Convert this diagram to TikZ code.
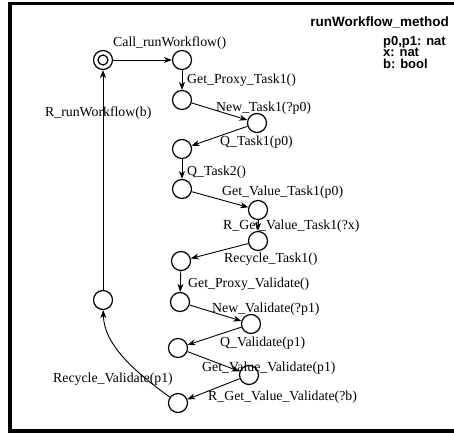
\documentclass[tikz,border=0pt]{standalone}
\usepackage{fontspec}
\setmainfont{Liberation Serif}
\setsansfont{Liberation Sans}
\usetikzlibrary{arrows.meta}
\usetikzlibrary{positioning}
\tikzset{state/.style = {draw, circle, line width = 1.2pt, inner sep = 0, minimum size = 19pt}}
\tikzset{lbl/.style = {anchor = west, inner sep = 0, font = \fontsize{13.8}{15}\selectfont}}
\tikzset{trans/.style = {-{Stealth[length = 8pt, width = 6pt, inset = 2.5pt]}, line width = 0.9pt}}

\begin{document}
\begin{tikzpicture}[x = 1pt, y = -1pt]
      \useasboundingbox (0, 0) rectangle (454, 433);
      \draw [line width = 3.5pt] (10, 3.3) rectangle (480, 431);

      \node [anchor = east, inner sep = 0, font = \sffamily\bfseries\fontsize{13.5}{10}\selectfont] (title) at (449, 22) {runWorkflow\_method};
      \node [anchor = north west, inner sep = 0, align = left, font = \sffamily\bfseries\fontsize{13}{11.5}\selectfont] (vars) at (383, 36) {p0,p1: nat\\x: nat\\b: bool};

      \node [state] (s0) at (103, 60) {};
      \draw [line width = 1.2pt] (s0.center) circle (5);
      \node [state] (s1) at (182, 60) {};
      \node [state] (s2) at (182, 100) {};
      \node [state] (s3) at (257, 123) {};
      \node [state] (s4) at (182, 149) {};
      \node [state] (s5) at (182, 189) {};
      \node [state] (s6) at (258, 210) {};
      \node [state] (s7) at (258, 241) {};
      \node [state] (s8) at (181, 261) {};
      \node [state] (s9) at (180, 302) {};
      \node [state] (s10) at (251, 324) {};
      \node [state] (s11) at (178, 348) {};
      \node [state] (s12) at (249, 375) {};
      \node [state] (s13) at (178, 403) {};
      \node [state] (s14) at (103, 300) {};

      \draw [trans] (s0) -- (s1);
      \draw [trans] (s1) -- (s2);
      \draw [trans] (s2) -- (s3);
      \draw [trans] (s3) -- (s4);
      \draw [trans] (s4) -- (s5);
      \draw [trans] (s5) -- (s6);
      \draw [trans] (s6) -- (s7);
      \draw [trans] (s7) -- (s8);
      \draw [trans] (s8) -- (s9);
      \draw [trans] (s9) -- (s10);
      \draw [trans] (s10) -- (s11);
      \draw [trans] (s11) -- (s12);
      \draw [trans] (s12) -- (s13);
      \draw [trans] (s13) .. controls (135, 372) and (104, 345) .. (s14);
      \draw [trans] (s14) -- (s0);

      \node [lbl] (l1) at (113, 43) {Call\_runWorkflow()};
      \node [lbl] (l2) at (187, 80) {Get\_Proxy\_Task1()};
      \node [lbl] (l3) at (216, 108) {New\_Task1(?p0)};
      \node [lbl] (l4) at (45, 113) {R\_runWorkflow(b)};
      \node [lbl] (l5) at (220, 142) {Q\_Task1(p0)};
      \node [lbl] (l6) at (187, 172) {Q\_Task2()};
      \node [lbl] (l7) at (222, 192) {Get\_Value\_Task1(p0)};
      \node [lbl] (l8) at (223, 226) {R\_Get\_Value\_Task1(?x)};
      \node [lbl] (l9) at (224, 259) {Recycle\_Task1()};
      \node [lbl] (l10) at (188, 284) {Get\_Proxy\_Validate()};
      \node [lbl] (l11) at (212, 309) {New\_Validate(?p1)};
      \node [lbl] (l12) at (220, 343) {Q\_Validate(p1)};
      \node [lbl] (l13) at (202, 368) {Get\_Value\_Validate(p1)};
      \node [lbl] (l14) at (53, 379) {Recycle\_Validate(p1)};
      \node [lbl] (l15) at (208, 397) {R\_Get\_Value\_Validate(?b)};
\end{tikzpicture}
\end{document}
